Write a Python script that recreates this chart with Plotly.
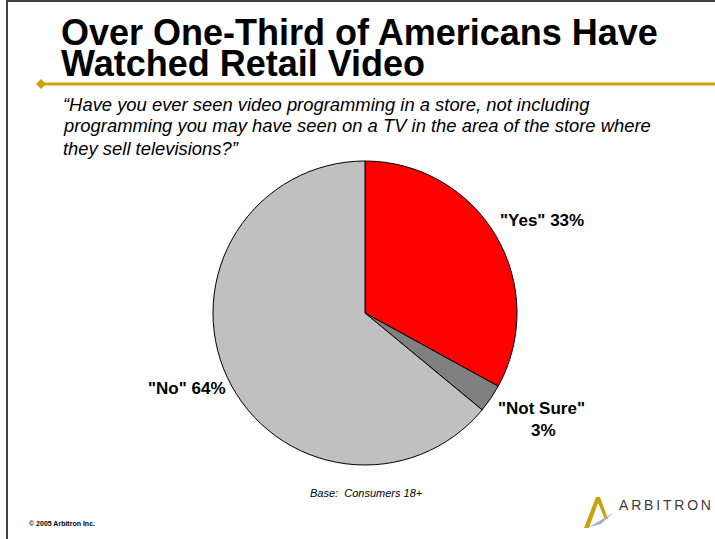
import plotly.graph_objects as go

W, H = 715, 539

# Survey responses
labels = ['"Yes"', '"Not Sure"', '"No"']
values = [33, 3, 64]
colors = ["#FF0000", "#808080", "#C0C0C0"]

title_lines = ["Over One-Third of Americans Have", "Watched Retail Video"]
question_lines = [
    "\u201cHave you ever seen video programming in a store, not including",
    "programming you may have seen on a TV in the area of the store where",
    "they sell televisions?\u201d",
]
base_note = "Base:\u00a0\u00a0Consumers 18+"
copyright_note = "\u00a9 2005 Arbitron Inc."
brand = "ARBITRON"


def px(x):
    return x / W


def py(y):
    return 1 - y / H


# Pie geometry (pixels)
cx, cy, r = 365, 313, 152

fig = go.Figure(
    go.Pie(
        labels=labels,
        values=values,
        marker=dict(colors=colors, line=dict(color="#000000", width=1)),
        sort=False,
        direction="clockwise",
        rotation=0,
        textinfo="none",
        hoverinfo="label+percent",
        showlegend=False,
        domain=dict(x=[px(cx - r), px(cx + r)], y=[py(cy + r), py(cy - r)]),
    )
)

ann = []
F = "Liberation Sans, Arial, sans-serif"

# Title
for txt, yc in zip(title_lines, [33, 64]):
    ann.append(dict(text=f"<b>{txt}</b>", x=px(59), y=py(yc), xanchor="left", yanchor="middle",
                    font=dict(family=F, size=36, color="#000000")))

# Question text
for txt, yc in zip(question_lines, [104, 126, 148]):
    ann.append(dict(text=f"<i>{txt}</i>", x=px(61), y=py(yc), xanchor="left", yanchor="middle",
                    font=dict(family=F, size=18.4, color="#000000")))

# Slice labels, built from the data values
lab_pos = {
    0: [(f"<b>{labels[0]} {values[0]}%</b>", 542, 220)],
    1: [(f"<b>{labels[1]}</b>", 541, 408), (f"<b>{values[1]}%</b>", 543, 430)],
    2: [(f"<b>{labels[2]} {values[2]}%</b>", 187, 388)],
}
for i, items in lab_pos.items():
    for txt, x, y in items:
        ann.append(dict(text=txt, x=px(x), y=py(y), xanchor="center", yanchor="middle",
                        font=dict(family=F, size=17, color="#000000")))

ann.append(dict(text=f"<i>{base_note}</i>", x=px(366), y=py(493), xanchor="center", yanchor="middle",
                font=dict(family=F, size=11, color="#000000")))
ann.append(dict(text=f"<b>{copyright_note}</b>", x=px(27), y=py(523), xanchor="left", yanchor="middle",
                font=dict(family=F, size=7, color="#000000")))
ann.append(dict(text="\u2009".join(brand), x=px(617), y=py(505), xanchor="left", yanchor="middle",
                font=dict(family=F, size=14, color="#3C3C3C")))

for a in ann:
    a.update(xref="paper", yref="paper", showarrow=False)

shapes = [
    # slide frame
    dict(type="line", x0=px(7), x1=px(7), y0=py(0), y1=py(539), line=dict(color="#404040", width=2)),
    dict(type="line", x0=px(7), x1=px(715), y0=py(1), y1=py(1), line=dict(color="#404040", width=2)),
    # gold rule with diamond
    dict(type="line", x0=px(42), x1=px(715), y0=py(84), y1=py(84), line=dict(color="#C9A40C", width=3)),
    dict(type="path", path=f"M {px(36)} {py(84)} L {px(41)} {py(79)} L {px(46)} {py(84)} L {px(41)} {py(89)} Z",
         fillcolor="#C9A40C", line=dict(width=0)),
    # logo mark
    dict(type="path",
         path=" ".join([
             f"M {px(584)} {py(528)}", f"L {px(596)} {py(497)}", f"L {px(600)} {py(497)}",
             f"L {px(608)} {py(519)}", f"L {px(605)} {py(519)}", f"L {px(598)} {py(503)}",
             f"L {px(589)} {py(528)}", "Z"]),
         fillcolor="#C9A40C", line=dict(width=0)),
    dict(type="path",
         path=f"M {px(589)} {py(527)} L {px(613)} {py(513)} L {px(601)} {py(524)} Z",
         fillcolor="#A8B0BE", line=dict(width=0)),
]
for s in shapes:
    s.update(xref="paper", yref="paper")

fig.update_layout(
    width=W, height=H,
    margin=dict(l=0, r=0, t=0, b=0),
    paper_bgcolor="#FFFFFF", plot_bgcolor="#FFFFFF",
    annotations=ann, shapes=shapes,
)

fig.write_html("out.html")
